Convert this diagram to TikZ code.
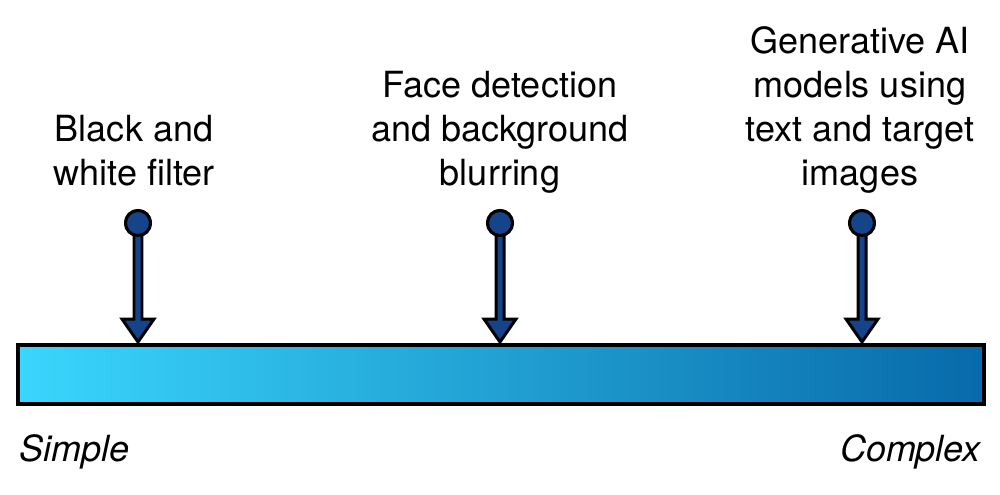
\documentclass[tikz,border=0pt]{standalone}
\usepackage{fontspec}
\setmainfont{TeX Gyre Heros}
\usetikzlibrary{calc}
\definecolor{pinblue}{RGB}{22,68,138}
\definecolor{barleft}{RGB}{58,214,252}
\definecolor{barright}{RGB}{8,106,170}
\tikzset{
  lbl/.style={align=center, inner sep=0pt, anchor=base, font=\fontsize{20.5}{25}\selectfont},
  endlbl/.style={inner sep=0pt, font=\fontsize{20.5}{25}\selectfont\itshape},
  pinhead/.style={circle, draw=black, fill=pinblue, line width=1.7pt, minimum size=0.5cm, inner sep=0pt},
  pinarrow/.style={draw=black, fill=pinblue, line width=1.7pt, line join=miter},
  bar/.style={draw=black, line width=2.3pt, left color=barleft, right color=barright, minimum width=19.32cm, minimum height=1.18cm, inner sep=0pt}
}
\begin{document}
\begin{tikzpicture}[x=0.02cm, y=-0.02cm]
\useasboundingbox (0,0) rectangle (1000,494);
\node[bar] (bar) at (501,374.5) {};
\foreach \i/\x in {1/138, 2/500, 3/862}{
  \coordinate (t\i) at (\x,342);
  \node[pinhead] (p\i) at (\x,223) {};
  \draw[pinarrow] ($(p\i)+(-4,11)$) -- ($(t\i)+(-4,-23)$) -- ($(t\i)+(-16,-23)$) -- (t\i) -- ($(t\i)+(16,-23)$) -- ($(t\i)+(4,-23)$) -- ($(p\i)+(4,11)$) -- cycle;
  \node[pinhead] at (p\i) {};
}
\node[lbl] (l1) at (134,185) {Black and\\white filter};
\node[lbl] (l2) at (500,185) {Face detection\\and background\\blurring};
\node[lbl] (l3) at (860,185) {Generative AI\\models using\\text and target\\images};
\node[endlbl, anchor=west] (s) at (19,452) {Simple};
\node[endlbl, anchor=east] (c) at (981,452) {Complex};
\end{tikzpicture}
\end{document}
